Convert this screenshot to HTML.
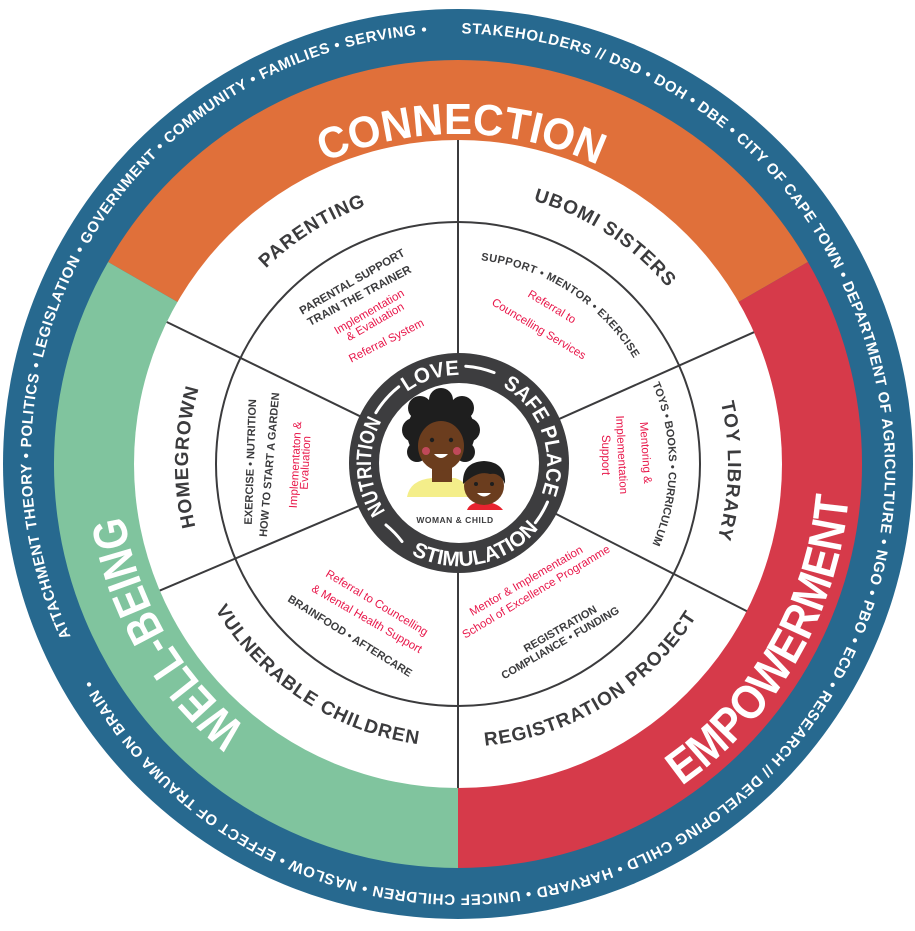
<!DOCTYPE html>
<html><head><meta charset="utf-8"><style>
html,body{margin:0;padding:0;background:#fff;width:915px;height:931px;overflow:hidden}
svg{display:block}
text{font-family:"Liberation Sans",sans-serif}
.t{fill:#3b3b3d;font-weight:bold}
.r{fill:#e8174a}
</style></head><body>
<svg width="915" height="931" viewBox="0 0 915 931" xmlns="http://www.w3.org/2000/svg">
<defs>
<path id="outer" d="M70.7,636.4 A424 424 0 1 1 845.3,291.6 A424 424 0 1 1 70.7,636.4"/>
<path id="conn" d="M172.2,299 A330 330 0 0 1 743.8,299"/>
<path id="emp" d="M458,856 A392 392 0 0 0 797.5,268"/>
<path id="well" d="M458,802 A338 338 0 0 1 165.3,295"/>
<path id="par" d="M211.7,343.9 A274 274 0 0 1 458,190"/>
<path id="ubo" d="M458,190 A274 274 0 0 1 708.3,352.6"/>
<path id="toy" d="M704.6,354.2 A270 270 0 0 1 698.6,586.6"/>
<path id="home" d="M209.5,569.5 A270 270 0 0 1 215.3,345.6"/>
<path id="vul" d="M197.5,574.6 A283 283 0 0 0 458,747"/>
<path id="reg" d="M458,747 A283 283 0 0 0 710.2,592.5"/>
<path id="ring205" d="M458,259 A205 205 0 1 1 458,669 A205 205 0 1 1 458,259"/>
<path id="toy2" d="M641,362 A200 200 0 0 1 641,566"/>
<path id="cNut" d="M386,512.2 A88 88 0 0 1 382,420.3"/>
<path id="cLove" d="M404.8,393.7 A88 88 0 0 1 462.1,375.1"/>
<path id="cSafe" d="M500.3,385.3 A88 88 0 0 1 540.6,496"/>
<path id="cStim" d="M409,553.1 A103 103 0 0 0 540.2,526.4"/>
</defs>

<circle cx="458" cy="464" r="455" fill="#27698f"/>
<path d="M458,464 L108.1,262 A404 404 0 0 1 807.9,262 Z" fill="#e0703a"/>
<path d="M458,464 L807.9,262 A404 404 0 0 1 458,868 Z" fill="#d63a4a"/>
<path d="M458,464 L458,868 A404 404 0 0 1 108.1,262 Z" fill="#80c49e"/>
<circle cx="458" cy="464" r="324" fill="#fff"/>
<circle cx="458" cy="464" r="242" fill="none" stroke="#3b3b3d" stroke-width="2"/>
<g stroke="#3b3b3d" stroke-width="2">
<line x1="458" y1="356" x2="458" y2="140"/>
<line x1="556.7" y1="420.1" x2="754" y2="332.2"/>
<line x1="554.2" y1="513" x2="746.7" y2="611.1"/>
<line x1="458" y1="572" x2="458" y2="788"/>
<line x1="358.6" y1="506.2" x2="159.8" y2="590.6"/>
<line x1="360.9" y1="416.7" x2="166.8" y2="322"/>
</g>

<text fill="#fff" font-size="15" font-weight="bold" letter-spacing="1"><textPath href="#outer" textLength="2645" lengthAdjust="spacing" xml:space="preserve">ATTACHMENT THEORY • POLITICS • LEGISLATION • GOVERNMENT • COMMUNITY • FAMILIES • SERVING •       STAKEHOLDERS // DSD • DOH • DBE • CITY OF CAPE TOWN • DEPARTMENT OF AGRICULTURE • NGO • PBO • ECD • RESEARCH // DEVELOPING CHILD • HARVARD • UNICEF CHILDREN • NASLOW • EFFECT OF TRAUMA ON BRAIN •</textPath></text>

<text fill="#fff" font-size="44" font-weight="bold" text-anchor="middle"><textPath href="#conn" startOffset="50.5%" textLength="282" lengthAdjust="spacingAndGlyphs">CONNECTION</textPath></text>
<text fill="#fff" font-size="48" font-weight="bold" text-anchor="middle"><textPath href="#emp" startOffset="50%" textLength="345" lengthAdjust="spacingAndGlyphs">EMPOWERMENT</textPath></text>
<text fill="#fff" font-size="48" font-weight="bold" text-anchor="middle"><textPath href="#well" startOffset="50%" textLength="250" lengthAdjust="spacingAndGlyphs">WELL-BEING</textPath></text>

<g class="t" font-size="19" text-anchor="middle" letter-spacing="1">
<text><textPath href="#par" startOffset="50%">PARENTING</textPath></text>
<text><textPath href="#ubo" startOffset="50%">UBOMI SISTERS</textPath></text>
<text><textPath href="#toy" startOffset="50%">TOY LIBRARY</textPath></text>
<text><textPath href="#home" startOffset="50%">HOMEGROWN</textPath></text>
<text><textPath href="#vul" startOffset="50%">VULNERABLE CHILDREN</textPath></text>
<text><textPath href="#reg" startOffset="50%">REGISTRATION PROJECT</textPath></text>
</g>

<g font-size="11.5" text-anchor="middle">
<text class="t" transform="translate(354,285) rotate(-30)">PARENTAL SUPPORT</text>
<text class="t" transform="translate(361,299) rotate(-28)">TRAIN THE TRAINER</text>
<text class="r" transform="translate(371,315) rotate(-30)">Implementation</text>
<text class="r" transform="translate(377,325) rotate(-30)">&amp; Evaluation</text>
<text class="r" transform="translate(388,344) rotate(-27)">Referral System</text>

<text class="t" font-size="11" text-anchor="start"><textPath href="#ring205" startOffset="23" textLength="188" lengthAdjust="spacing">SUPPORT • MENTOR • EXERCISE</textPath></text>
<text class="r" transform="translate(550,310) rotate(31)">Referral to</text>
<text class="r" transform="translate(537,332) rotate(31)">Councelling Services</text>

<text class="t" font-size="11"><textPath href="#toy2" startOffset="50%">TOYS • BOOKS • CURRICULUM</textPath></text>
<text class="r" transform="translate(642,453) rotate(86)">Mentoring &amp;</text>
<text class="r" transform="translate(618,455) rotate(87)">Implementation</text>
<text class="r" transform="translate(602,455) rotate(90)">Support</text>

<text class="t" font-size="11" transform="translate(254,462) rotate(-88)">EXERCISE • NUTRITION</text>
<text class="t" font-size="11" transform="translate(273,465) rotate(-85)">HOW TO START A GARDEN</text>
<text class="r" transform="translate(299,465) rotate(-87)">Implementaton &amp;</text>
<text class="r" transform="translate(309,463) rotate(-87)">Evaluation</text>

<text class="r" transform="translate(375,606) rotate(31)">Referral to Councelling</text>
<text class="r" transform="translate(365,622) rotate(30)">&amp; Mental Health Support</text>
<text class="t" font-size="11" transform="translate(348,639) rotate(32)">BRAINFOOD  •  AFTERCARE</text>

<text class="r" transform="translate(528,584) rotate(-30)">Mentor &amp; Implementation</text>
<text class="r" transform="translate(538,595) rotate(-31)">School of Excellence Programme</text>
<text class="t" font-size="11" transform="translate(562,632) rotate(-30)">REGISTRATION</text>
<text class="t" font-size="11" transform="translate(562,646) rotate(-30)">COMPLIANCE • FUNDING</text>
</g>

<!-- center circle -->
<circle cx="459" cy="463" r="110" fill="#3d3d3f"/>
<g fill="none" stroke="#fff" stroke-width="3" stroke-linecap="round">
<path d="M375.9,412.7 A97 97 0 0 1 398.7,386.8"/>
<path d="M465.8,366.2 A97 97 0 0 1 494.1,372.6"/>
<path d="M547.5,502 A97 97 0 0 1 535.4,522.7"/>
<path d="M386,525 A97 97 0 0 1 402,541.5"/>
</g>
<g fill="#fff" font-size="21" font-weight="bold" text-anchor="middle">
<text><textPath href="#cNut" startOffset="50%" textLength="95" lengthAdjust="spacingAndGlyphs">NUTRITION</textPath></text>
<text><textPath href="#cLove" startOffset="50%" textLength="56" lengthAdjust="spacingAndGlyphs">LOVE</textPath></text>
<text><textPath href="#cSafe" startOffset="50%" textLength="124" lengthAdjust="spacingAndGlyphs">SAFE PLACE</textPath></text>
<text><textPath href="#cStim" startOffset="50%" textLength="140" lengthAdjust="spacingAndGlyphs">STIMULATION</textPath></text>
</g>
<circle cx="459" cy="463" r="80" fill="#fff"/>

<g>
<path d="M407,497 Q410,480 432,478 L455,478 Q468,482 470,497 Z" fill="#f4ee8a"/>
<rect x="432" y="462" width="20" height="20" fill="#6b3d1e"/>
<g fill="#1e1e1e">
<circle cx="441" cy="432" r="34"/>
<circle cx="414" cy="430" r="12"/><circle cx="468" cy="430" r="12"/>
<circle cx="420" cy="408" r="12"/><circle cx="462" cy="408" r="12"/>
<circle cx="441" cy="400" r="12"/><circle cx="417" cy="452" r="10"/><circle cx="465" cy="452" r="10"/>
</g>
<ellipse cx="441" cy="446" rx="23" ry="25" fill="#6b3d1e"/>
<circle cx="432" cy="440" r="2.2" fill="#1e1e1e"/><circle cx="451" cy="440" r="2.2" fill="#1e1e1e"/>
<circle cx="426" cy="451" r="4" fill="#c0495a"/><circle cx="457" cy="451" r="4" fill="#c0495a"/>
<path d="M434,454 Q441,462 448,454 Z" fill="#fff"/>
<path d="M467,510 Q470,502 483,502 Q497,502 503,510 Z" fill="#e8232f"/>
<ellipse cx="484" cy="486" rx="20" ry="19" fill="#6b3d1e"/>
<path d="M463,484 Q462,462 484,461 Q506,462 505,484 Q500,472 490,474 Q478,470 463,484 Z" fill="#1e1e1e"/>
<circle cx="476" cy="484" r="2" fill="#1e1e1e"/><circle cx="492" cy="484" r="2" fill="#1e1e1e"/>
<path d="M477,493 Q484,500 491,493 Z" fill="#fff"/>
</g>
<text x="455" y="523" text-anchor="middle" fill="#3b3b3d" font-size="8.5" font-weight="bold" letter-spacing="0.5">WOMAN &amp; CHILD</text>
</svg>
</body></html>
